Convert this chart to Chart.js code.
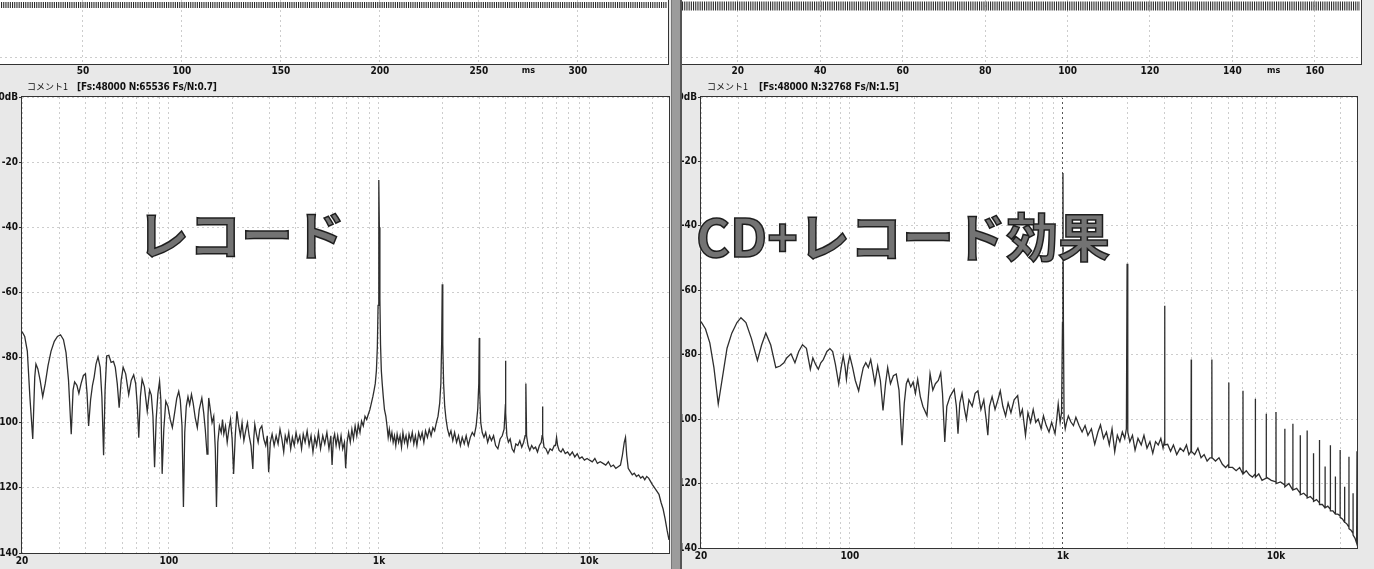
<!DOCTYPE html>
<html>
<head>
<meta charset="utf-8">
<script src="https://cdn.jsdelivr.net/npm/chart.js@4.4.1/dist/chart.umd.min.js"></script>
<style>
html, body { margin: 0; padding: 0; }
body { width: 1374px; height: 569px; position: relative; overflow: hidden; background: #e8e8e8; }
.panel { position: absolute; top: 0; height: 569px; overflow: hidden; background: #e8e8e8; }
#leftPanel { left: 0; width: 671px; }
#rightPanel { left: 682px; width: 692px; }
#sep { position: absolute; left: 671px; top: 0; width: 11px; height: 569px; background: #9c9c9c; border-left: 1px solid #777; border-right: 2px solid #555; box-sizing: border-box; }
canvas { position: absolute; }
.info { position: absolute; top: 81px; font-size: 10px; line-height: 12px; color: #111; white-space: pre; font-weight: 700; letter-spacing: -0.2px; font-family: "Liberation Sans Narrow", "DejaVu Sans Condensed", "Noto Sans CJK JP", sans-serif; }
.info.jp { font-family: "Noto Sans CJK JP", sans-serif; font-size: 9px; font-weight: 400; letter-spacing: 0; }
.big { position: absolute; font-family: "Noto Sans CJK JP", sans-serif; font-weight: 700; font-size: 52px; line-height: 52px; color: #737373; -webkit-text-stroke: 1.5px #1e1e1e; white-space: nowrap; text-shadow: 0 0 2px #fff, 0 0 2px #fff, 0 0 3px #fff; }
</style>
</head>
<body>
<div id="leftPanel" class="panel">
  <canvas id="leftTime" width="671" height="80" style="left:0;top:0"></canvas>
  <canvas id="leftSpec" width="671" height="479" style="left:0;top:90px"></canvas>
  <div class="info jp" style="left:27px">コメント1</div>
  <div class="info" style="left:77px">[Fs:48000 N:65536 Fs/N:0.7]</div>
  <div class="big" style="left:137px;top:207px">レコード</div>
</div>
<div id="sep"></div>
<div id="rightPanel" class="panel">
  <canvas id="rightTime" width="692" height="80" style="left:-2px;top:0"></canvas>
  <canvas id="rightSpec" width="698" height="479" style="left:-6px;top:90px"></canvas>
  <div class="info jp" style="left:25px">コメント1</div>
  <div class="info" style="left:77px">[Fs:48000 N:32768 Fs/N:1.5]</div>
  <div class="big" style="left:14px;top:209px">CD+レコード効果</div>
</div>
<script>
// spectrum axes
const freqGrid = [20, 30, 40, 50, 60, 70, 80, 90, 100, 200, 300, 400, 500, 600, 700, 800, 900,
  1000, 2000, 3000, 4000, 5000, 6000, 7000, 8000, 9000, 10000, 20000];
const freqLabelAt = [20, 100, 1000, 10000];
const freqLabelText = ['20', '100', '1k', '10k'];
const dbTicks = [0, -20, -40, -60, -80, -100, -120, -140];
const dbLabels = ['0dB', '-20', '-40', '-60', '-80', '-100', '-120', '-140'];

// time strip axes
const leftTimeTicks = [50, 100, 150, 200, 250, 300];
const leftUnitAt = 275;
const rightTimeTicks = [20, 40, 60, 80, 100, 120, 140, 160];
const rightUnitAt = 150;

// left: record (Hz, dB)
const leftFreq = [20, 20.6, 21.2, 21.8, 22.5, 23, 23.3, 23.8, 24.4, 25.1, 25.8, 26.6, 27.5, 28.5, 29.5, 30.5, 31.5, 32.4, 33.3, 34.3,
  35, 35.6, 36.5, 37.3, 38.2, 39.2, 40.1, 40.8, 41.5, 42.4, 43.3, 44.1, 45, 46, 47.1, 48, 48.9, 49.7, 50.6, 51.8,
  53.1, 54.5, 55.6, 56.8, 58, 59.3, 60.6, 62.3, 64.4, 66.2, 68, 69.5, 70.8, 71.9, 73.2, 74.6, 76.5, 78.9, 80, 81,
  82.5, 84, 85.5, 87, 88.7, 90.3, 91.6, 92.9, 94.6, 96.7, 99, 101.5, 103.9, 106.5, 109, 111.4, 113.3, 115.5, 117.3, 119,
  121, 123.3, 125.6, 128.1, 130.5, 133.5, 136.6, 139.5, 143.5, 146.5, 149, 151.9, 153.5, 154.8, 157.5, 160.5, 163.5, 166.3, 168.5, 171,
  174, 177.5, 180, 182.6, 186, 189.5, 193, 196.5, 200, 203.3, 207, 210.8, 215, 219, 223, 227.5, 232, 236.5, 241, 246,
  251, 253.5, 256.4, 261, 266, 271, 277, 283, 289, 294, 298.5, 304, 310, 317, 324, 331, 338, 345, 352, 358,
  365, 372, 380, 387, 395, 403, 411, 420, 428, 436, 445, 455, 465, 475, 485, 495, 505, 515, 527, 540,
  552, 565, 578, 590, 598, 607, 615, 625, 636, 648, 660, 672, 685, 694, 705, 717, 730, 743, 756, 770,
  784, 797, 812, 826, 842, 858, 874, 889, 905, 920, 935, 948, 960, 972, 982, 990, 996, 1000, 1004, 1010,
  1017, 1026, 1036, 1048, 1062, 1078, 1092, 1106, 1120, 1136, 1152, 1168, 1185, 1202, 1220, 1240, 1260, 1280, 1300, 1322,
  1345, 1368, 1390, 1415, 1440, 1465, 1490, 1515, 1545, 1575, 1605, 1635, 1665, 1700, 1735, 1770, 1805, 1840, 1875, 1910,
  1945, 1970, 1988, 2000, 2012, 2030, 2055, 2085, 2120, 2160, 2200, 2245, 2290, 2340, 2390, 2440, 2490, 2545, 2600, 2660,
  2720, 2780, 2840, 2900, 2950, 2985, 3000, 3015, 3050, 3100, 3160, 3220, 3290, 3360, 3430, 3510, 3590, 3680, 3770, 3860,
  3940, 3985, 4000, 4015, 4060, 4130, 4210, 4300, 4390, 4480, 4580, 4680, 4780, 4880, 4960, 5000, 5040, 5120, 5220, 5330,
  5440, 5560, 5680, 5800, 5920, 5975, 6000, 6025, 6100, 6230, 6370, 6520, 6670, 6830, 6920, 7000, 7080, 7200, 7350, 7500,
  7700, 7900, 8100, 8320, 8550, 8780, 9000, 9250, 9500, 9780, 10050, 10350, 10650, 10950, 11300, 11650, 12000, 12350, 12700, 13050,
  13400, 13750, 14100, 14400, 14700, 14900, 15100, 15350, 15700, 16050, 16400, 16800, 17200, 17600, 18000, 18400, 18800, 19200, 19600, 20000,
  20500, 21000, 21500, 22000, 22500, 23000, 23500, 24000];
const leftDb = [-72, -73.5, -78, -92, -105, -86, -82, -83.5, -87, -92, -88, -82.5, -78, -75, -73.5, -73, -74.5, -78.5, -87, -103.5,
  -90, -87.5, -88.5, -91, -88, -85.5, -85, -91, -101, -93, -88.5, -86, -82, -79.8, -83, -92, -110, -90, -79.5, -79.3,
  -81.5, -81.2, -83, -88, -95.4, -87, -83, -85, -91.4, -87, -85.3, -88, -95, -104.6, -92, -86.7, -89, -96.5, -93, -90,
  -91.5, -98, -113.7, -99, -91, -87.3, -93, -115.7, -102, -93.4, -95, -99, -101.5, -97, -92.5, -90.4, -93, -101, -125.9, -103,
  -95, -92, -94.5, -91.3, -94, -98.5, -101.5, -96, -92.4, -97, -102, -109.6, -98, -92.4, -96, -100, -98, -108, -125.9, -106,
  -101, -103, -99, -103.5, -101, -106, -102, -99, -105, -115.7, -104, -96.5, -101, -104, -100, -105.5, -102.5, -100, -104, -107,
  -114.2, -105, -100.5, -103.5, -106, -102, -101, -105, -107, -104, -115.2, -106, -103.5, -107, -104, -106.5, -102, -105, -109, -104,
  -106, -103, -108, -104.5, -107, -103, -106, -104, -108, -103.5, -106, -102.5, -107, -104, -109, -104.5, -107, -103, -108, -104,
  -106.5, -103, -108, -104, -113, -105, -103.5, -107, -104, -107.5, -104, -108, -106, -114, -106, -103, -106, -102, -105, -101,
  -104, -100.5, -103, -99.5, -101, -98, -99, -97.5, -96, -94, -92, -90, -88, -84, -77, -64, -40, -25.5, -40, -62,
  -76, -84, -88, -92, -96, -98, -101, -104.5, -102, -105, -103, -106, -104, -107, -103.5, -106, -104, -107.5, -103, -106,
  -104, -107, -103.5, -105.5, -103, -106.5, -104, -107, -103, -105, -103, -106, -102.5, -104.5, -102, -104, -101.5, -102.5, -100, -98,
  -94, -88, -75, -57.5, -76, -88, -95, -99, -102, -104, -102.5, -105.5, -103, -106, -104, -107, -104.5, -106.5, -104, -107,
  -104.5, -103, -104, -101, -96, -88, -74, -90, -100, -103, -104.5, -103, -106, -104, -105.5, -104, -107, -108, -105, -104,
  -102, -96, -81, -97, -104, -106, -105, -108, -109, -106.5, -107, -105.5, -107.5, -106, -104, -88, -104, -107, -108.5, -107,
  -108, -107.5, -109, -107, -106, -104, -95, -104, -107.5, -108, -109.5, -108, -108.5, -107, -107, -104.5, -107, -108.5, -109, -108,
  -109.5, -109, -110, -109, -110.5, -109.5, -111, -110.5, -111.5, -111, -111.5, -112, -111, -112.5, -112, -112.5, -113, -112, -113.5, -113,
  -114, -113.5, -113, -110, -106, -104.5, -110, -114, -115, -116, -115.5, -116.5, -116, -117, -116.5, -117.5, -116.5, -117, -118, -119,
  -120, -121, -122, -124.5, -126.5, -129.5, -133, -136];

// right: CD + record effect (Hz, dB)
const rightFreq = [20, 21, 22, 23, 24.1, 25.5, 26.5, 27.9, 29.5, 30.8, 32.5, 34.5, 36.8, 38.5, 40.3, 42.5, 44.9, 47, 49, 50.5,
  52.9, 55.2, 57.5, 59.9, 62.5, 65.2, 67, 69, 71.1, 73, 75, 78, 80.6, 83, 85.5, 88.6, 91, 93, 95, 96.3,
  98, 99.9, 103, 106, 109.9, 113, 115.5, 118.7, 122, 125.2, 128, 131, 135, 139, 143, 147, 150.4, 155, 160, 165,
  170, 175.6, 180, 184, 187.5, 193, 198, 203, 208, 214, 220, 230, 237.8, 245, 252, 260, 266.8, 272, 278.8, 285,
  295, 308.6, 316, 321.6, 328, 336, 345, 352, 362, 375, 387, 399, 412, 425, 436, 444, 452, 465, 480, 495,
  508, 522, 538, 553, 570, 590, 613, 630, 645, 667, 685, 705, 725, 745, 765, 790, 810, 835, 860, 885,
  918, 935, 950, 970, 985, 995, 1000, 1005, 1012, 1025, 1040, 1060, 1090, 1120, 1150, 1190, 1230, 1270, 1310, 1360,
  1410, 1460, 1500, 1550, 1600, 1650, 1700, 1750, 1800, 1850, 1900, 1950, 1985, 2000, 2015, 2060, 2120, 2180, 2250, 2330,
  2400, 2480, 2560, 2640, 2720, 2800, 2880, 2950, 2990, 3000, 3010, 3100, 3200, 3300, 3420, 3550, 3680, 3800, 3900, 3990,
  4000, 4010, 4150, 4300, 4450, 4600, 4750, 4900, 4990, 5000, 5010, 5200, 5400, 5600, 5800, 5990, 6000, 6010, 6250, 6500,
  6750, 6990, 7000, 7010, 7250, 7500, 7750, 7990, 8000, 8010, 8300, 8600, 8990, 9000, 9010, 9500, 9990, 10000, 10010, 10500,
  10990, 11000, 11010, 11500, 11990, 12000, 12010, 12500, 12990, 13000, 13010, 13500, 13990, 14000, 14010, 14500, 14990, 15000, 15010, 15500,
  15990, 16000, 16010, 16500, 16990, 17000, 17010, 17500, 17990, 18000, 18010, 18500, 18990, 19000, 19010, 19500, 19990, 20000, 20010, 20500,
  20990, 21000, 21010, 21500, 21990, 22000, 22010, 22500, 22990, 23000, 23010, 23500, 23900, 24000];
const rightDb = [-69.7, -72, -76.3, -84, -95.3, -85, -78, -73.3, -70, -68.5, -70, -75, -81.8, -77, -73.3, -77, -84, -83.5, -82.5, -81,
  -79.7, -82.5, -79, -76.9, -78, -84.5, -81, -83, -84.5, -82.5, -81.5, -79, -78.1, -79, -83, -89.1, -84, -80.4, -84, -87.6,
  -83, -80.4, -84, -88, -91.2, -87, -84, -82.5, -84, -81.5, -85, -89, -83.5, -88, -97.3, -89, -84, -89, -86.5, -86,
  -91, -108.1, -95, -89, -87.6, -90, -88.5, -92, -87.6, -93, -96, -98.9, -85.9, -91, -89, -88, -85.6, -92, -107.1, -96,
  -93, -90.7, -96, -104.5, -95, -92, -97, -100, -94, -96, -92, -91.2, -97, -94, -100, -105, -96, -93, -97, -94,
  -91.2, -96, -99, -95, -98, -94, -92.7, -99, -97, -105, -98, -101, -97, -101, -100, -103, -99, -102, -104, -101,
  -104.5, -100, -95.3, -101, -98, -70, -23.6, -70, -100, -103, -101, -99, -100.9, -102, -99.4, -102, -104, -102, -105, -103,
  -107.8, -104, -101.8, -106, -104, -108, -103, -110.1, -105, -107, -104, -106, -103, -51.8, -104, -107, -105, -109.6, -106, -108,
  -105, -109, -107, -110.6, -107, -108, -106, -109, -107, -64.8, -108, -107.8, -110, -108, -111, -109, -110, -108, -111, -110,
  -81.5, -110, -111, -109, -112, -111, -113, -112, -112, -81.5, -112, -113, -112, -114, -115, -114, -88.6, -115, -115, -116,
  -115, -117, -91.2, -117, -116, -117.3, -118, -117, -93.7, -118, -117, -119, -118.3, -98.3, -118, -119, -119.5, -97.8, -120, -119.5,
  -120.4, -103, -121, -120, -122, -101.4, -122, -121.5, -123, -105, -123.5, -123, -124, -103.5, -124.5, -124, -125, -110.6, -125.5, -125,
  -126, -106.5, -126.5, -126.5, -127.5, -114.7, -127.5, -127, -128, -108.1, -128.5, -128.5, -129.5, -117.8, -129.5, -129.5, -130, -109.6, -130.5, -131,
  -132, -121, -132, -132.5, -133.5, -111.7, -134, -134.5, -135.5, -123, -136, -137, -138.5, -110];

const FONT = '"Liberation Sans Narrow", "DejaVu Sans Condensed", sans-serif';

const paperPlugin = {
  id: 'paper',
  beforeDraw(chart) {
    const { ctx, chartArea: a } = chart;
    ctx.save();
    ctx.fillStyle = '#fff';
    ctx.fillRect(a.left, a.top, a.right - a.left, a.bottom - a.top);
    ctx.restore();
  },
  afterDraw(chart) {
    const { ctx, chartArea: a } = chart;
    ctx.save();
    ctx.strokeStyle = '#333';
    ctx.lineWidth = 1;
    ctx.strokeRect(Math.round(a.left) - 0.5, Math.round(a.top) - 0.5, Math.round(a.right - a.left) + 1, Math.round(a.bottom - a.top) + 1);
    ctx.restore();
  }
};

// dense waveform band along the top of the time strips
const waveBandPlugin = {
  id: 'waveBand',
  afterDraw(chart, args, opts) {
    const { ctx, chartArea: a } = chart;
    ctx.save();
    ctx.strokeStyle = '#2b2b2b';
    ctx.lineWidth = opts.h;
    ctx.setLineDash([1.1, 1.1]);
    ctx.beginPath();
    ctx.moveTo(a.left + 1, a.top + opts.y);
    ctx.lineTo(a.right - 1, a.top + opts.y);
    ctx.stroke();
    ctx.restore();
  }
};

function timeChart(id, tmin, tmax, ticks, unitAt, padLeft, padRight, band) {
  return new Chart(document.getElementById(id), {
    type: 'scatter',
    data: { datasets: [{ data: [] }] },
    options: {
      responsive: false,
      animation: false,
      events: [],
      devicePixelRatio: 1,
      layout: { padding: { left: padLeft, right: padRight, top: 0, bottom: 0 } },
      plugins: { legend: { display: false }, tooltip: { enabled: false }, waveBand: band },
      scales: {
        x: {
          type: 'linear', min: tmin, max: tmax,
          afterBuildTicks: s => { s.ticks = ticks.concat([unitAt]).sort((a, b) => a - b).map(v => ({ value: v })); },
          afterFit: s => { s.height = 16; },
          ticks: {
            autoSkip: false, maxRotation: 0, padding: 1, color: '#111',
            font: c => ({ family: FONT, size: c.tick && c.tick.value === unitAt ? 9 : 10, weight: 'bold' }),
            callback: v => v === unitAt ? 'ms' : String(v)
          },
          grid: { drawTicks: false, color: c => c.tick && c.tick.value === unitAt ? 'rgba(0,0,0,0)' : '#cdcdcd' },
          border: { display: false, dash: [2, 3] }
        },
        y: {
          min: 0, max: 1,
          afterBuildTicks: s => { s.ticks = [{ value: 0.1 }]; },
          afterFit: s => { s.width = 0; },
          ticks: { display: false },
          grid: { drawTicks: false, color: '#cdcdcd' },
          border: { display: false, dash: [2, 3] }
        }
      }
    },
    plugins: [paperPlugin, waveBandPlugin]
  });
}

function spectrumChart(id, freq, db, o) {
  return new Chart(document.getElementById(id), {
    type: 'scatter',
    data: {
      datasets: [{
        data: freq.map((f, i) => ({ x: f, y: db[i] })),
        showLine: true,
        borderColor: '#2e2e2e',
        borderWidth: 1.3,
        pointRadius: 0,
        tension: 0
      }]
    },
    options: {
      responsive: false,
      animation: false,
      events: [],
      devicePixelRatio: 1,
      layout: { padding: { top: 3, right: o.padRight, left: 0, bottom: 0 } },
      plugins: { legend: { display: false }, tooltip: { enabled: false } },
      scales: {
        x: {
          type: 'logarithmic', min: 20, max: 24000,
          afterBuildTicks: s => { s.ticks = freqGrid.map(v => ({ value: v })); },
          afterFit: s => { s.height = o.xAxisH; },
          ticks: {
            autoSkip: false, maxRotation: 0, padding: 2, color: '#111',
            font: { family: FONT, size: 10, weight: 'bold' },
            callback: v => { const i = freqLabelAt.indexOf(v); return i < 0 ? '' : freqLabelText[i]; }
          },
          grid: {
            drawTicks: false,
            color: c => c.tick && c.tick.value === o.cursor ? '#555' : '#cdcdcd'
          },
          border: { display: false, dash: [2, 3] }
        },
        y: {
          min: -140, max: 0,
          afterBuildTicks: s => { s.ticks = dbTicks.map(v => ({ value: v })); },
          afterFit: s => { s.width = o.yAxisW; },
          ticks: {
            padding: 1, color: '#111',
            font: { family: FONT, size: 10, weight: 'bold' },
            callback: v => { const i = dbTicks.indexOf(v); return i < 0 ? '' : dbLabels[i]; }
          },
          grid: { color: '#cdcdcd', tickLength: 3, tickColor: '#333', tickBorderDash: [] },
          border: { display: false, dash: [2, 3] }
        }
      }
    },
    plugins: [paperPlugin]
  });
}

timeChart('leftTime', 8.1, 345.5, leftTimeTicks, leftUnitAt, 0, 3, { y: 5, h: 6 });
timeChart('rightTime', 6.2, 171.2, rightTimeTicks, rightUnitAt, 1, 11, { y: 6, h: 9 });
spectrumChart('leftSpec', leftFreq, leftDb, { padRight: 2, xAxisH: 16, yAxisW: 22, cursor: null });
spectrumChart('rightSpec', rightFreq, rightDb, { padRight: 17, xAxisH: 21, yAxisW: 25, cursor: 1000 });
</script>
</body>
</html>
